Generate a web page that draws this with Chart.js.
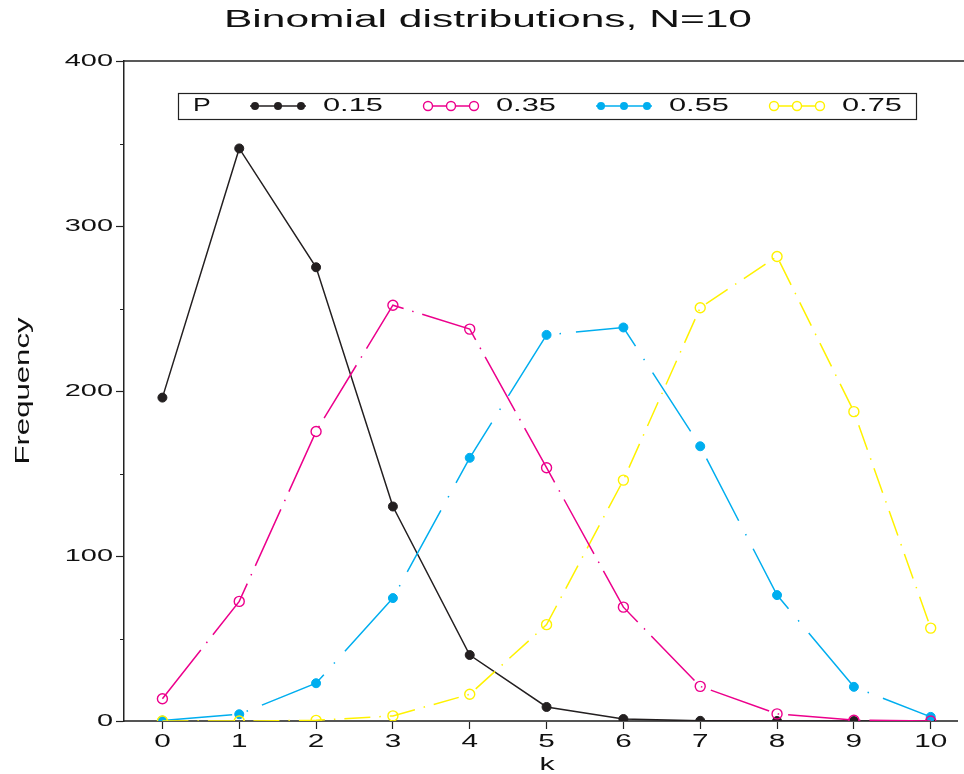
<!DOCTYPE html>
<html>
<head>
<meta charset="utf-8">
<script src="https://cdn.jsdelivr.net/npm/chart.js@4/dist/chart.umd.min.js"></script>
<style>
  html, body { margin: 0; padding: 0; background: #fff; }
  #wrap { width: 964px; height: 774px; }
</style>
</head>
<body>
<div id="wrap"><canvas id="binom" width="964" height="774"></canvas></div>
<script>
const kValues = [0, 1, 2, 3, 4, 5, 6, 7, 8, 9, 10];
const probs = ["0.15", "0.35", "0.55", "0.75"];
const freqP15 = [196, 347, 275, 130, 40, 8.5, 1.2, 0.1, 0, 0, 0];
const freqP35 = [13.5, 72.5, 175.5, 252, 237.5, 153.5, 69, 21, 4.3, 0.5, 0];
const freqP55 = [0.3, 4.1, 22.9, 74.5, 159.5, 234, 238.5, 166.5, 76.3, 20.7, 2.5];
const freqP75 = [0, 0, 0.4, 3.1, 16.2, 58.4, 146, 250.5, 281.5, 187.5, 56.3];
const yTicks = [0, 100, 200, 300, 400];
const yMinor = [50, 150, 250, 350];

const colors = ["#231f20", "#ec008c", "#00aeef", "#fff200"];
const dashes = [[], [62, 9, 1.5, 9], [70, 15, 1.5, 15], [26, 9, 1.5, 9]];
const filled = [true, false, true, false];
const series = [freqP15, freqP35, freqP55, freqP75];

const FONT = "'Liberation Sans', Arial, Helvetica, sans-serif";

// the reference uses a wide, stretched sans; imitate it by scaling x
function wideText(ctx, text, x, y, size, sx, align) {
  ctx.save();
  ctx.font = size + "px " + FONT;
  ctx.textAlign = align || "center";
  ctx.textBaseline = "middle";
  ctx.translate(x, y);
  ctx.scale(sx, 1);
  ctx.fillText(text, 0, 0);
  ctx.restore();
}

const datasets = series.map((vals, i) => ({
  label: probs[i],
  data: kValues.map((k, j) => ({ x: k, y: vals[j] })),
  borderColor: colors[i],
  backgroundColor: filled[i] ? colors[i] : "rgba(0,0,0,0)",
  pointBorderColor: colors[i],
  pointBackgroundColor: filled[i] ? colors[i] : "rgba(0,0,0,0)",
  pointRadius: filled[i] ? 4.5 : 5,
  pointBorderWidth: filled[i] ? 1 : 1.4,
  borderWidth: 1.5,
  borderDash: dashes[i],
  tension: 0,
  fill: false,
  order: i === 1 ? 0 : 4 - i
}));

// frame, minor ticks, tick labels, titles and the legend box
const decor = {
  id: "decor",
  afterDraw(chart) {
    const ctx = chart.ctx;
    const a = chart.chartArea;
    const x = chart.scales.x;
    const y = chart.scales.y;
    ctx.save();
    ctx.strokeStyle = "#222";
    ctx.lineWidth = 1.5;
    ctx.beginPath();
    ctx.moveTo(a.left, a.top);
    ctx.lineTo(chart.width, a.top);
    ctx.stroke();
    ctx.lineWidth = 1;
    yMinor.forEach(v => {
      const py = Math.round(y.getPixelForValue(v)) + 0.5;
      ctx.beginPath();
      ctx.moveTo(a.left - 4, py);
      ctx.lineTo(a.left, py);
      ctx.stroke();
    });

    ctx.fillStyle = "#111";
    kValues.forEach(k => wideText(ctx, String(k), x.getPixelForValue(k), 742, 18, 1.65));
    yTicks.forEach(v => wideText(ctx, String(v), 113, y.getPixelForValue(v), 17, 1.7, "right"));

    // title stretched to span 224..752
    ctx.font = "23px " + FONT;
    const tt = "Binomial distributions, N=10";
    wideText(ctx, tt, 488, 21, 23, 528 / ctx.measureText(tt).width);
    wideText(ctx, "k", 547, 765, 19, 1.6);
    ctx.save();
    ctx.translate(23, 391);
    ctx.rotate(-Math.PI / 2);
    ctx.font = "21px " + FONT;
    wideText(ctx, "Frequency", 0, 0, 21, 147 / ctx.measureText("Frequency").width);
    ctx.restore();

    // legend
    ctx.fillStyle = "#fff";
    ctx.fillRect(178, 93, 738, 26);
    ctx.strokeStyle = "#222";
    ctx.lineWidth = 1.2;
    ctx.strokeRect(178.5, 93.5, 738, 26);
    ctx.fillStyle = "#111";
    wideText(ctx, "P", 193, 106, 19, 1.4, "left");
    const starts = [255, 428, 601, 774];
    starts.forEach((sx, i) => {
      ctx.strokeStyle = colors[i];
      ctx.lineWidth = 1.4;
      ctx.beginPath();
      ctx.moveTo(sx - 5, 106);
      ctx.lineTo(sx + 51, 106);
      ctx.stroke();
      for (let m = 0; m < 3; m++) {
        ctx.beginPath();
        ctx.arc(sx + m * 23, 106, filled[i] ? 4 : 4.5, 0, Math.PI * 2);
        if (filled[i]) {
          ctx.fillStyle = colors[i];
          ctx.fill();
        } else {
          ctx.fillStyle = "#fff";
          ctx.fill();
          ctx.stroke();
        }
      }
      ctx.fillStyle = "#111";
      wideText(ctx, probs[i], sx + 68, 106, 19, 1.62, "left");
    });
    ctx.restore();
  }
};

new Chart(document.getElementById("binom"), {
  type: "line",
  data: { datasets },
  options: {
    responsive: false,
    animation: false,
    layout: { padding: { top: 61, right: 0, left: 0, bottom: 0 } },
    plugins: {
      legend: { display: false },
      title: { display: false },
      tooltip: { enabled: false }
    },
    scales: {
      x: {
        type: "linear",
        min: -0.5,
        max: 10.35,
        afterBuildTicks: scale => { scale.ticks = kValues.map(v => ({ value: v })); },
        afterFit: scale => {
          scale.height = 53;
          scale.paddingLeft = 0;
          scale.paddingRight = 0;
        },
        border: { color: "#555", width: 2 },
        grid: { drawOnChartArea: false, tickLength: 8, color: "#222", tickWidth: 1.2 },
        ticks: { display: false }
      },
      y: {
        min: 0,
        max: 400,
        afterBuildTicks: scale => { scale.ticks = yTicks.map(v => ({ value: v })); },
        afterFit: scale => {
          scale.width = 124;
          scale.paddingTop = 0;
          scale.paddingBottom = 0;
        },
        border: { color: "#222", width: 1.5 },
        grid: { drawOnChartArea: false, tickLength: 8, color: "#222", tickWidth: 1.2 },
        ticks: { display: false }
      }
    }
  },
  plugins: [decor]
});
</script>
</body>
</html>
